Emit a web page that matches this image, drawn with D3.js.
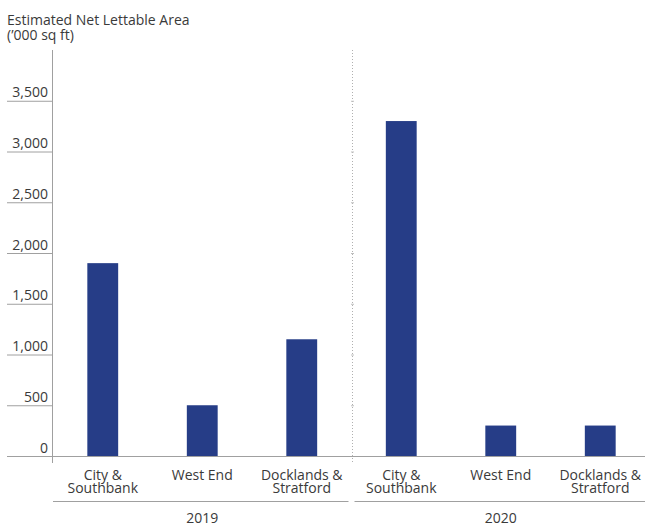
<!DOCTYPE html>
<html>
<head>
<meta charset="utf-8">
<script src="https://cdn.jsdelivr.net/npm/d3@7"></script>
<style>
  body { margin: 0; background: #fff; }
  text { font-family: "Open Sans", Lato, sans-serif; fill: #3a3a3a; }
</style>
</head>
<body>
<div id="chart"></div>
<script>
// data
var years = ["2019", "2020"];
var regions = [["City &", "Southbank"], ["West End"], ["Docklands &", "Stratford"]];
var values2019 = [1900, 500, 1150];
var values2020 = [3300, 300, 300];
var yTicks = [0, 500, 1000, 1500, 2000, 2500, 3000, 3500];

var data = [];
years.forEach(function(yr, i) {
  var vals = i === 0 ? values2019 : values2020;
  regions.forEach(function(r, j) {
    data.push({ key: yr + "-" + j, year: yr, label: r, value: vals[j] });
  });
});

var W = 645, H = 527;
var svg = d3.select("#chart").append("svg")
    .attr("width", W)
    .attr("height", H);

// scales
var x = d3.scaleBand()
    .domain(data.map(function(d) { return d.key; }))
    .range([53, 650])
    .paddingInner(0.69)
    .paddingOuter(0.345);

var y = d3.scaleLinear()
    .domain([0, 4000])
    .range([456, 50]);

// title
svg.append("text")
    .attr("x", 7).attr("y", 25)
    .attr("font-size", "14px")
    .text("Estimated Net Lettable Area");
svg.append("text")
    .attr("x", 7).attr("y", 40)
    .attr("font-size", "14px")
    .text("(\u2019000 sq ft)");

// y axis with labels sitting on top of short tick lines
var yAxis = svg.append("g")
    .attr("transform", "translate(52,0)")
    .call(d3.axisLeft(y).tickValues(yTicks).tickSize(45).tickFormat(d3.format(",")));
yAxis.select(".domain").remove();
yAxis.selectAll(".tick line").attr("stroke", "#a0a0a0");
yAxis.selectAll(".tick text")
    .attr("x", -4)
    .attr("dy", "-4")
    .attr("font-size", "14px")
    .attr("fill", "#3a3a3a")
    .style("font-family", "'Open Sans', Lato, sans-serif");

// axis line
svg.append("line")
    .attr("x1", 52.5).attr("x2", 52.5)
    .attr("y1", y(4000)).attr("y2", 463)
    .attr("stroke", "#a0a0a0");

// dotted separator between years
var sepX = Math.round(x(data[3].key) - x.step() * x.paddingInner() / 2) + 0.5;
svg.append("line")
    .attr("x1", sepX).attr("x2", sepX)
    .attr("y1", y(4000)).attr("y2", 463)
    .attr("stroke", "#b0b0b0")
    .attr("stroke-dasharray", "1,2");
svg.selectAll(".sepTick")
    .data(yTicks.slice(1))
    .enter().append("line")
    .attr("x1", sepX - 1.5).attr("x2", sepX + 1.5)
    .attr("y1", function(d) { return y(d) + 0.5; })
    .attr("y2", function(d) { return y(d) + 0.5; })
    .attr("stroke", "#c0c0c0");

// bars
svg.selectAll(".bar")
    .data(data)
    .enter().append("rect")
    .attr("x", function(d) { return x(d.key); })
    .attr("width", x.bandwidth())
    .attr("y", function(d) { return y(d.value); })
    .attr("height", function(d) { return y(0) - y(d.value); })
    .attr("fill", "#263d87");

// zero baseline across the whole width
svg.append("line")
    .attr("x1", 7).attr("x2", W)
    .attr("y1", y(0) + 0.5).attr("y2", y(0) + 0.5)
    .attr("stroke", "#a0a0a0");

// category labels
var cat = svg.selectAll(".cat")
    .data(data)
    .enter().append("text")
    .attr("text-anchor", "middle")
    .attr("font-size", "14px")
    .attr("x", function(d) { return x(d.key) + x.bandwidth() / 2; })
    .attr("y", 480);
cat.selectAll("tspan")
    .data(function(d) { return d.label; })
    .enter().append("tspan")
    .attr("x", function() { return d3.select(this.parentNode).attr("x"); })
    .attr("dy", function(d, i) { return i === 0 ? 0 : 13; })
    .text(function(d) { return d; });

// year group lines and labels
years.forEach(function(yr, i) {
  var first = x(yr + "-0") - x.step() * x.paddingInner() / 2;
  var last = x(yr + "-2") + x.bandwidth() + x.step() * x.paddingInner() / 2;
  svg.append("line")
    .attr("x1", Math.max(first + (i === 0 ? 0 : 3), 52)).attr("x2", Math.min(last - (i === 0 ? 3 : 0), W))
    .attr("y1", 501.5).attr("y2", 501.5)
    .attr("stroke", "#a0a0a0");
  svg.append("text")
    .attr("text-anchor", "middle")
    .attr("font-size", "14px")
    .attr("x", (first + last) / 2)
    .attr("y", 523)
    .text(yr);
});
</script>
</body>
</html>
